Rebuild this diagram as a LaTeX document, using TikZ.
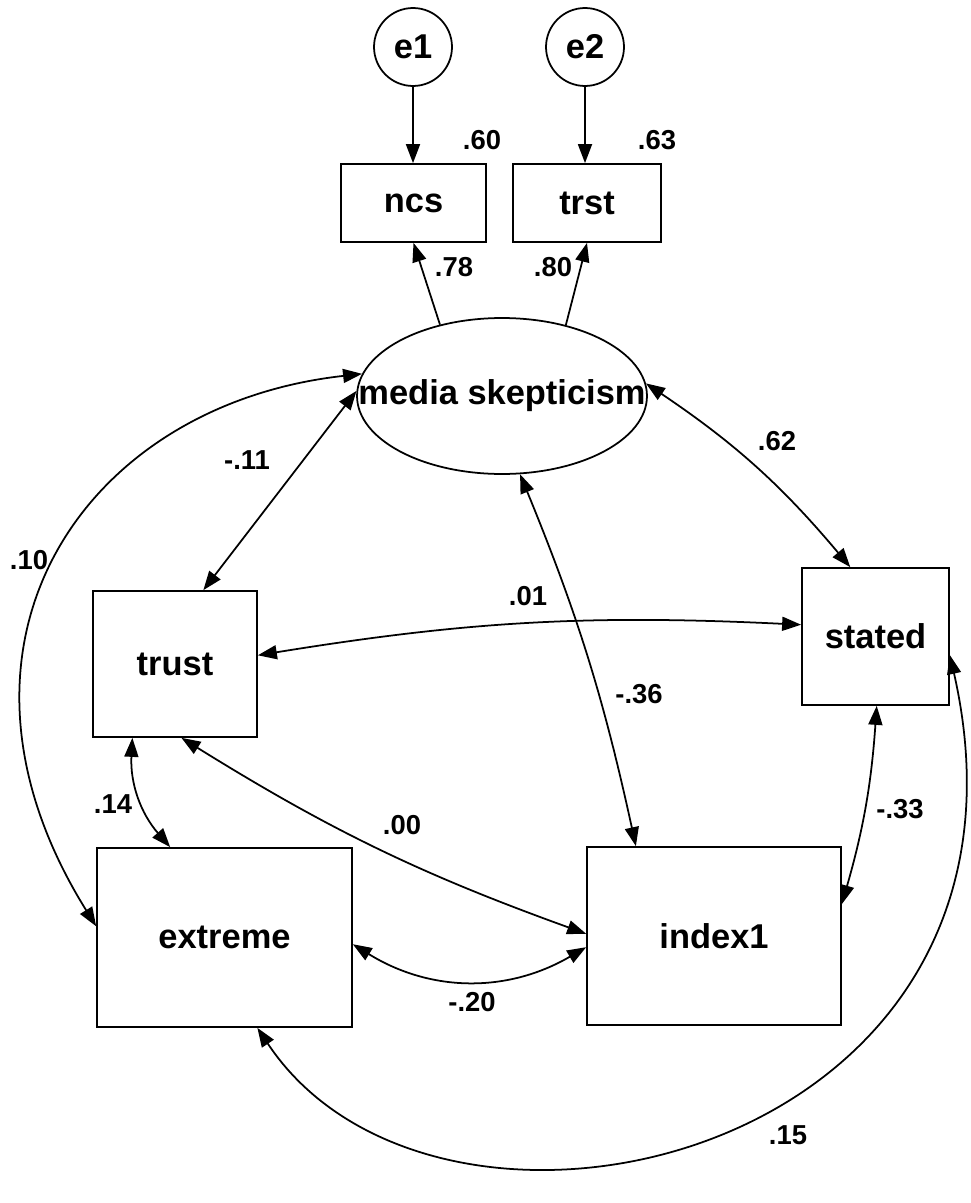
\documentclass[tikz,border=0pt]{standalone}
\usepackage{fontspec}
\setmainfont{Liberation Sans}
\usetikzlibrary{arrows.meta,shapes.geometric}
\begin{document}
\begin{tikzpicture}[x=0.02cm,y=-0.02cm,
  line width=1pt,
  tip/.style={-{Triangle[length=0.38cm,width=0.28cm]}},
  both/.style={{Triangle[length=0.38cm,width=0.28cm]}-{Triangle[length=0.38cm,width=0.28cm]}},
  varfont/.style={font=\bfseries\fontsize{19.6}{22}\selectfont},
  obs/.style={draw, rectangle, inner sep=0pt, varfont},
  lat/.style={draw, ellipse, inner sep=0pt},
  err/.style={draw, circle, inner sep=0pt, minimum size=1.56cm, varfont},
  coef/.style={font=\bfseries\fontsize{15.6}{18}\selectfont, inner sep=0pt}
]
\useasboundingbox (0,0) rectangle (970,1203);

% error terms and indicators
\node[err] (e1) at (413,47) {e1};
\node[err] (e2) at (585,47) {e2};
\node[obs, minimum width=2.9cm, minimum height=1.56cm] (ncs) at (413.5,203) {ncs};
\node[obs, minimum width=2.96cm, minimum height=1.56cm] (trst) at (587,203) {trst};

% latent variable
\node[lat, minimum width=5.8cm, minimum height=3.12cm,
      label={[varfont]center:media skepticism}] (ms) at (502,396) {};

% observed variables
\node[obs, minimum width=3.28cm, minimum height=2.92cm] (trust) at (175,664) {trust};
\node[obs, minimum width=2.94cm, minimum height=2.74cm] (stated) at (875.5,636.5) {stated};
\node[obs, minimum width=5.1cm, minimum height=3.58cm] (extreme) at (224.5,937.5) {extreme};
\node[obs, minimum width=5.08cm, minimum height=3.56cm] (index1) at (714,936) {index1};

% measurement paths
\draw[tip] (e1.south) -- (e1.south |- ncs.north);
\draw[tip] (e2.south) -- (e2.south |- trst.north);
\draw[tip] (ms.131) -- (ncs.south);
\draw[tip] (ms.48) -- (trst.south);

% covariances
\draw[both] (ms.178) -- (trust.69);
\draw[both] (ms.5) to[bend left=8] (stated.110);
\draw[both] (ms.283) to[bend left=5] (index1.131);
\draw[both] (trust.6) to[bend left=6] (stated.171);
\draw[both] (trust.240) to[bend right=22] (extreme.121);
\draw[both] (trust.275) to[bend right=6] (index1.179);
\draw[both] (extreme.-3) to[bend right=31] (index1.185);
\draw[both] (stated.271) to[bend left=6] (index1.14);
\draw[both] (ms.171) .. controls +(-280,31) and +(-175,-281) .. (extreme.175);
\draw[both] (extreme.-70) .. controls +(181.5,274) and +(114,503) .. (stated.-14);

% coefficients
\node[coef] (r60) at (482,140) {.60};
\node[coef] (r63) at (657,140) {.63};
\node[coef] (l78) at (454,267) {.78};
\node[coef] (l80) at (553,267) {.80};
\node[coef] (c11) at (247,460) {-.11};
\node[coef] (c10) at (29,560) {.10};
\node[coef] (c62) at (777,441) {.62};
\node[coef] (c01) at (528,596) {.01};
\node[coef] (c36) at (639,694) {-.36};
\node[coef] (c14) at (113,804) {.14};
\node[coef] (c00) at (402,825) {.00};
\node[coef] (c20) at (472,1002) {-.20};
\node[coef] (c33) at (900,809) {-.33};
\node[coef] (c15) at (788,1135) {.15};
\end{tikzpicture}
\end{document}
